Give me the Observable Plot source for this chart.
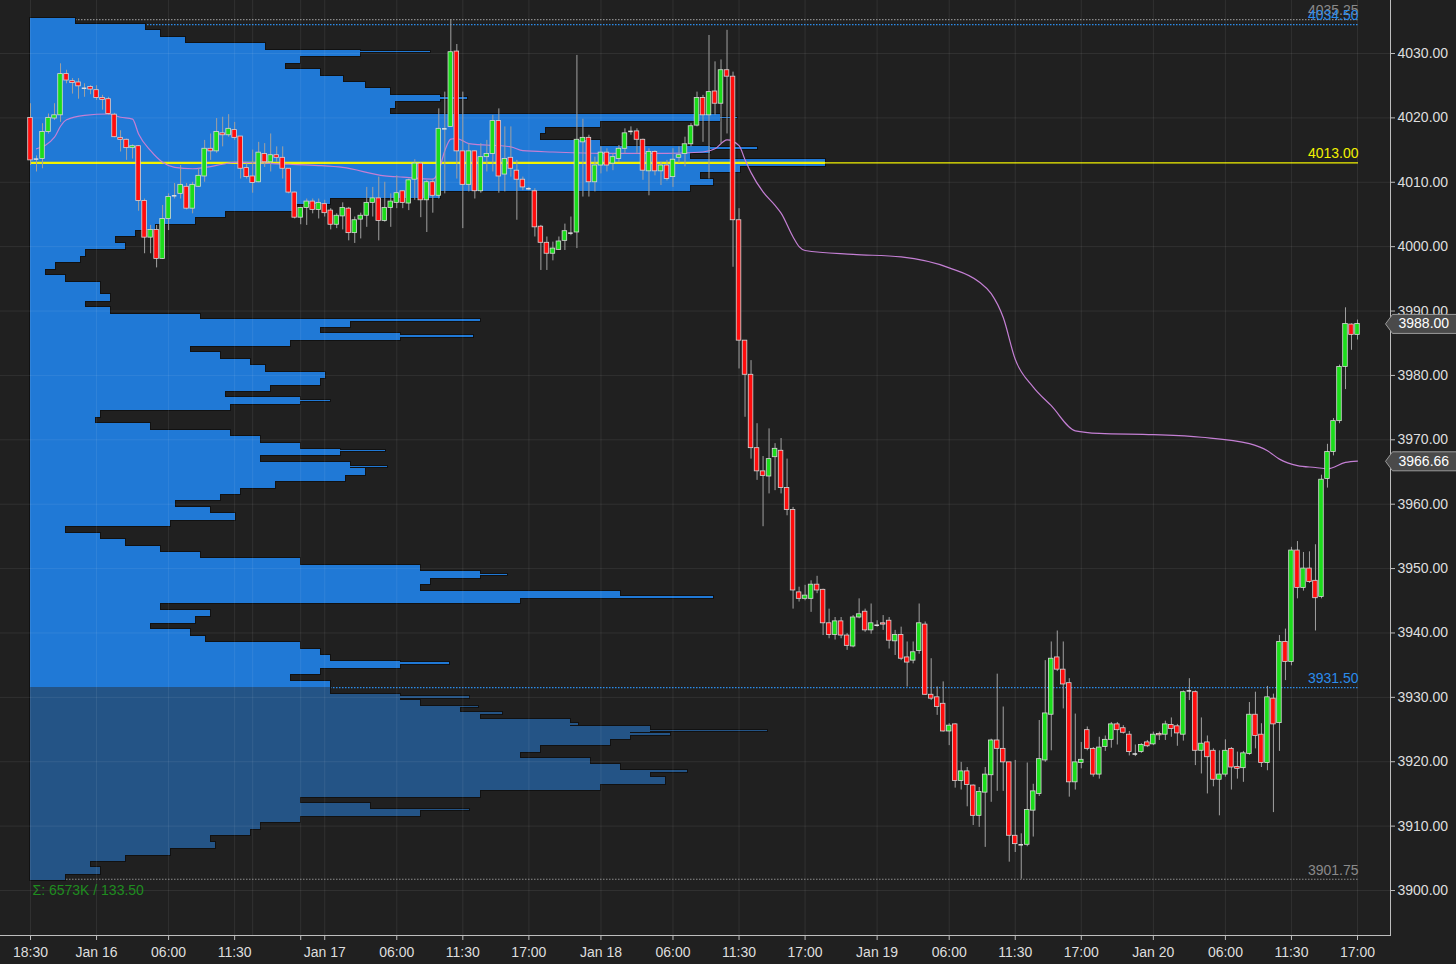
<!DOCTYPE html>
<html><head><meta charset="utf-8">
<script src="https://cdn.jsdelivr.net/npm/d3@7"></script>
<script src="https://cdn.jsdelivr.net/npm/@observablehq/plot@0.6"></script>
<style>
html,body{margin:0;padding:0;background:#202020;}
#wrap{position:relative;width:1456px;height:964px;overflow:hidden;background:#202020;}
#wrap svg{position:absolute;left:0;top:0;}
</style></head><body><div id="wrap"></div>
<script>
// ---------- DATA ----------
const opens = [4020.0,4013.6,4013.6,4017.8,4019.9,4020.4,4026.8,4025.7,4025.5,4024.6,
4024.8,4024.3,4023.1,4022.9,4020.5,4016.9,4016.6,4015.3,4015.6,4007.1,
4001.4,4002.6,3998.1,4004.3,4007.9,4008.2,4009.3,4005.9,4009.3,4010.9,
4015.2,4014.8,4017.6,4017.3,4018.1,4017.1,4012.2,4010.9,4010.0,4014.4,
4013.1,4014.2,4013.8,4012.1,4008.4,4004.5,4006.0,4007.0,4005.7,4006.6,
4005.6,4003.4,4004.7,4005.9,4002.1,4004.2,4004.8,4006.8,4007.5,4004.0,
4006.0,4006.8,4008.6,4006.7,4010.4,4012.9,4007.2,4010.0,4007.9,4018.3,
4018.6,4030.3,4014.8,4009.6,4014.8,4008.6,4013.9,4014.4,4019.5,4011.2,
4013.8,4011.8,4010.4,4009.0,4008.6,4003.1,4000.6,3998.9,3999.5,4000.9,
4002.1,4002.2,4016.2,4016.9,4010.0,4012.6,4014.6,4012.9,4013.6,4015.2,
4017.9,4017.9,4016.6,4011.7,4014.7,4011.7,4012.6,4010.8,4013.8,4014.4,
4015.9,4018.8,4023.1,4020.4,4024.1,4022.2,4027.4,4026.4,4004.1,3985.4,
3980.1,3968.7,3965.1,3964.3,3967.3,3968.3,3962.5,3959.1,3946.3,3945.3,
3945.3,3947.5,3946.7,3941.5,3939.7,3941.8,3939.6,3937.9,3942.4,3943.3,
3940.4,3941.2,3941.5,3941.9,3938.7,3939.7,3936.2,3935.7,3937.2,3941.3,
3930.4,3930.0,3929.0,3924.7,3925.8,3917.0,3918.5,3916.3,3911.6,3915.2,
3917.9,3923.3,3922.0,3919.9,3908.5,3907.1,3907.1,3912.4,3915.0,3920.2,
3927.3,3936.2,3934.3,3932.2,3916.8,3919.8,3924.9,3922.0,3918.0,3922.3,
3923.4,3925.8,3925.2,3924.2,3921.2,3921.5,3923.0,3922.7,3924.3,3924.2,
3925.7,3925.5,3924.2,3931.0,3930.8,3921.7,3923.0,3921.7,3917.2,3918.0,
3922.0,3919.2,3919.0,3921.2,3927.3,3924.2,3919.8,3929.8,3926.0,3938.6,
3935.5,3952.8,3947.0,3950.0,3948.1,3945.6,3963.9,3968.1,3972.9,3981.3,
3987.9,3986.3];
const highs = [4022.2,4014.1,4019.1,4020.6,4022.2,4028.4,4027.4,4026.1,4026.1,4025.3,
4025.0,4025.0,4023.5,4023.2,4020.7,4018.0,4016.7,4015.8,4015.7,4007.4,
4003.3,4003.3,4006.4,4008.2,4009.8,4012.6,4009.8,4010.0,4012.1,4016.5,
4017.5,4019.9,4020.1,4020.5,4019.3,4017.1,4012.9,4015.0,4016.2,4016.0,
4017.5,4015.5,4015.5,4012.1,4008.5,4006.1,4007.4,4007.4,4007.4,4007.2,
4005.9,4005.1,4006.8,4006.1,4004.6,4005.2,4009.2,4009.2,4010.8,4010.0,
4008.2,4011.0,4008.7,4010.5,4013.5,4013.1,4010.3,4010.5,4021.4,4024.0,
4035.25,4031.4,4024.0,4016.0,4014.9,4016.0,4016.5,4020.4,4021.4,4018.6,
4018.6,4013.4,4010.8,4009.2,4009.0,4003.3,4001.5,4000.7,4001.5,4003.5,
4004.6,4029.7,4019.8,4017.3,4013.9,4015.5,4015.2,4014.4,4015.7,4018.3,
4018.6,4018.3,4016.7,4015.2,4014.9,4013.1,4013.4,4015.2,4015.5,4017.0,
4019.1,4024.0,4023.5,4032.8,4028.7,4029.0,4033.6,4027.1,4005.9,3985.4,
3982.3,3972.5,3967.4,3971.7,3969.4,3970.2,3967.0,3959.5,3947.1,3947.4,
3948.1,3948.8,3946.8,3943.7,3942.4,3942.4,3939.9,3942.7,3945.3,3943.7,
3944.5,3941.9,3942.7,3942.4,3940.4,3940.9,3938.6,3938.6,3944.5,3941.7,
3936.0,3931.6,3932.4,3925.9,3925.9,3919.9,3919.1,3916.4,3916.0,3919.1,
3923.5,3933.6,3928.5,3919.9,3920.2,3908.8,3919.8,3916.5,3926.4,3935.7,
3938.6,3940.3,3938.6,3932.9,3927.4,3923.0,3925.4,3922.2,3923.8,3924.0,
3926.1,3926.1,3925.6,3924.7,3922.6,3922.8,3923.3,3924.6,3924.6,3926.3,
3926.8,3925.8,3931.0,3932.9,3931.0,3926.8,3924.0,3922.0,3921.7,3923.4,
3922.2,3921.5,3921.6,3929.2,3930.8,3925.9,3931.7,3930.5,3939.6,3940.6,
3953.3,3954.2,3952.5,3952.6,3953.7,3964.5,3969.3,3973.3,3981.6,3990.5,
3988.0,3988.6];
const lows = [4012.6,4011.6,4012.1,4017.5,4019.6,4019.3,4025.3,4023.7,4022.9,4023.2,
4023.6,4022.7,4021.2,4020.4,4016.9,4014.7,4013.4,4013.6,4005.5,3998.9,
3998.9,3996.7,3998.0,4002.5,4007.4,4007.4,4005.7,4005.1,4009.2,4010.0,
4013.4,4014.5,4015.5,4017.0,4016.5,4010.5,4010.5,4008.3,4009.9,4012.3,
4011.6,4013.1,4010.5,4008.2,4004.3,4003.4,4003.3,4005.1,4004.3,4004.6,
4002.6,4002.8,4002.6,4000.9,4000.5,4001.2,4003.0,4004.6,4000.9,4003.8,
4003.0,4005.9,4005.9,4005.6,4007.2,4004.5,4002.2,4005.2,4007.4,4008.2,
4018.6,4010.5,4002.8,4008.5,4007.4,4008.3,4011.6,4011.6,4008.3,4008.5,
4010.8,4004.1,4008.7,4008.7,4001.5,3996.3,3996.3,3997.8,3999.4,3999.4,
4001.7,3999.7,4007.7,4007.7,4008.5,4011.3,4011.6,4011.8,4013.1,4014.4,
4017.3,4014.4,4010.3,4007.9,4011.0,4009.5,4010.2,4009.2,4012.9,4012.4,
4015.5,4018.6,4016.2,4010.5,4020.4,4016.0,4017.5,3996.8,3981.0,3973.5,
3967.0,3963.7,3956.5,3961.6,3962.1,3961.6,3958.2,3943.7,3944.8,3945.0,
3943.2,3946.1,3939.6,3939.1,3938.9,3939.1,3937.3,3937.7,3942.2,3940.1,
3939.8,3940.9,3940.4,3937.5,3936.5,3935.7,3931.6,3935.2,3936.7,3930.3,
3929.5,3927.2,3924.6,3922.5,3915.9,3915.6,3913.0,3910.1,3909.8,3906.7,
3913.7,3915.4,3915.4,3904.4,3905.9,3901.75,3906.8,3908.3,3914.6,3919.9,
3921.7,3934.0,3928.2,3914.5,3915.6,3918.9,3921.7,3917.6,3917.3,3921.6,
3922.1,3922.6,3924.3,3920.9,3920.8,3921.3,3922.2,3922.5,3923.3,3923.3,
3923.8,3922.4,3923.2,3929.5,3919.4,3918.1,3915.0,3916.1,3911.6,3917.6,
3915.6,3917.3,3916.8,3921.0,3922.0,3919.1,3918.6,3912.1,3921.6,3932.6,
3934.9,3945.3,3946.5,3947.7,3940.3,3945.3,3962.5,3967.5,3972.5,3977.8,
3983.9,3985.5];
const closes = [4013.4,4013.6,4017.8,4020.0,4020.4,4026.8,4025.8,4025.4,4024.9,4024.6,
4024.4,4023.1,4022.8,4020.6,4017.0,4016.6,4015.3,4015.6,4007.1,4001.4,
4002.6,3998.1,4004.3,4007.7,4007.9,4009.6,4005.9,4009.6,4011.0,4015.2,
4014.8,4017.8,4017.3,4018.3,4016.9,4012.1,4010.8,4009.9,4014.6,4013.1,
4014.2,4013.8,4012.1,4008.4,4004.5,4006.0,4007.0,4005.7,4006.8,4005.2,
4003.4,4004.8,4006.0,4002.1,4004.1,4004.8,4006.8,4007.5,4004.0,4006.0,
4007.0,4008.3,4006.8,4010.3,4012.9,4007.2,4010.0,4007.9,4018.3,4018.3,
4030.2,4014.8,4009.6,4014.8,4008.6,4013.9,4014.4,4019.5,4010.9,4013.6,
4012.1,4010.4,4009.2,4009.0,4003.0,4000.6,3998.9,3999.7,4000.8,4002.4,
4002.1,4016.6,4016.9,4010.0,4012.6,4014.6,4012.6,4013.9,4015.2,4017.6,
4017.9,4016.6,4011.8,4014.7,4011.7,4012.6,4010.5,4013.5,4014.2,4015.9,
4018.7,4023.1,4020.4,4024.0,4022.2,4027.4,4026.4,4004.1,3985.4,3980.1,
3968.7,3965.1,3964.4,3967.0,3968.6,3962.5,3959.1,3946.6,3945.3,3945.8,
3947.5,3946.6,3941.5,3939.7,3941.8,3939.6,3938.0,3942.4,3942.9,3940.4,
3941.5,3941.2,3941.3,3938.8,3939.7,3936.0,3935.4,3937.0,3941.5,3930.4,
3929.8,3928.5,3924.7,3925.6,3917.0,3918.5,3916.4,3911.6,3915.3,3918.0,
3923.3,3922.0,3919.9,3908.5,3907.2,3907.1,3912.5,3915.4,3920.4,3927.5,
3936.0,3934.3,3932.0,3916.8,3919.9,3920.3,3922.0,3918.0,3922.2,3923.4,
3925.8,3924.9,3924.5,3921.5,3921.2,3922.6,3922.4,3924.2,3924.1,3925.8,
3925.1,3924.4,3930.8,3931.0,3921.7,3922.8,3920.7,3917.2,3918.0,3921.7,
3919.1,3918.9,3921.3,3927.3,3924.0,3919.8,3930.0,3925.8,3938.6,3935.5,
3952.8,3947.0,3950.0,3947.9,3945.4,3963.8,3968.1,3972.9,3981.3,3988.0,
3986.3,3988.0];

// VWAP (bar index, value)
const vwapIdx = [1,4,5,6,9,13,15,17,18,20,22,24,27,29,32,34,43,48,52,59,62,67,68,69,70,71,73,80,82,87,95,106,112,114,116,118,119,120,122,124,125,127,128,129,137,145,153,158,160,162,164,167,170,174,178,187,195,203,206,208,211,214,216,219,221];
const vwapVal = [4015.2,4017.0,4018.7,4019.7,4020.4,4020.6,4020.1,4019.8,4017.5,4014.9,4013.1,4012.3,4012.1,4012.3,4012.8,4013.1,4012.8,4012.6,4012.3,4011.0,4010.8,4010.5,4011.8,4014.9,4016.7,4016.8,4016.0,4015.5,4014.9,4014.7,4014.5,4014.5,4014.7,4015.2,4016.6,4015.7,4013.5,4011.5,4008.5,4006.4,4005.2,4001.5,4000.0,3999.4,3998.8,3998.4,3996.7,3994.5,3992.7,3989.0,3982.5,3978.2,3975.3,3971.4,3971.0,3970.8,3970.4,3969.4,3968.3,3967.0,3966.0,3965.7,3965.5,3966.5,3966.7];

// Volume profile, 1-point levels (price, relative volume)
const profilePrices = d3.range(4035, 3901, -1);
const profileVol = [45,115,130,155,235,330,270,255,290,313,335,360,410,365,360,690,570,515,510,570,
680,660,795,710,670,683,660,410,300,265,195,165,125,105,85,95,55,50,25,15,
35,70,70,80,55,80,170,320,290,370,260,160,190,220,235,295,290,240,195,270,
200,70,65,120,200,230,270,310,230,320,335,315,245,210,190,145,180,205,140,35,
70,95,130,170,270,390,450,400,390,590,490,130,180,165,120,160,175,270,290,300,
370,290,260,300,300,370,390,430,450,540,620,600,580,510,490,560,590,620,635,570,
450,270,340,390,270,230,220,180,185,140,95,60,70,35];
// single-tick spikes of the profile (price, relative volume)
const spikePrices = [4030.25,4023.0,4020.0,4015.25,4012.75,3988.5,3986.0,3976.0,3968.25,3965.75,3949.0,3945.5,3935.25,3930.0,3928.5,3927.5,3926.5,3925.75,3924.75,3924.25,3918.5,3912.5];
const spikeVols = [400,437,707,727,748,450,443,300,355,357,477,683,419,439,448,472,528,548,737,640,657,439];
const valueAreaHigh = 3931.5;
const pocPrice = 4013.00;

// Levels and ticks
const priceTicks = d3.range(3900, 4031, 10);
const timeTickIdx = [0,11,23,34,45,49,61,72,83,95,107,118,129,141,153,164,175,187,199,210,221];
const timeTickLabels = ["18:30","Jan 16","06:00","11:30","","Jan 17","06:00","11:30","17:00","Jan 18","06:00","11:30","17:00","Jan 19","06:00","11:30","17:00","Jan 20","06:00","11:30","17:00"];
const extraGridIdx = [37];
const levelValues = [4035.25, 4034.50, 4013.00, 3931.50, 3901.75];
const levelColors = ["#8a8a8a", "#2b8ceb", "#f2f200", "#2b8ceb", "#8a8a8a"];
const levelDotted = [true, true, false, true, true];
const tagValues = [3988.00, 3966.66];
const sumLabel = "Σ: 6573K / 133.50";

// ---------- BUILD ----------
const W = 1456, H = 964;
const font = "'Liberation Sans', Arial, Helvetica, sans-serif";
const yScale = {domain: [3900, 4030], range: [890, 53]};
const bars = opens.map((o, i) => ({i, o, h: highs[i], l: lows[i], c: closes[i]}));
const lastIdx = bars.length - 1;
const up = bars.filter(d => d.c > d.o), down = bars.filter(d => d.c < d.o), flat = bars.filter(d => d.c === d.o);
const vwap = vwapIdx.map((i, k) => ({i, v: vwapVal[k]}));
const rows = [
  ...profilePrices.map((p, k) => ({p, v: profileVol[k], half: 0.5})),
  ...spikePrices.map((p, k) => ({p, v: spikeVols[k], half: 0.125}))
];
const maxVol = d3.max(profileVol);
const levels = levelValues.map((v, k) => ({v, color: levelColors[k], dotted: levelDotted[k]}));
const tickLabel = new Map(timeTickIdx.map((d, k) => [d, timeTickLabels[k]]));
const profColor = d => d.p > valueAreaHigh ? "#2079d6" : "#245486";
const bw = 0.38;
const rowOpts = {x1: 0, x2: "v", y1: d => d.p - d.half, y2: d => d.p + d.half, fill: profColor, shapeRendering: "crispEdges"};

const profilePlot = Plot.plot({
  width: W, height: H,
  marginLeft: 30, marginRight: 98, marginTop: 0, marginBottom: 29,
  x: {domain: [0, maxVol], range: [30, 825], axis: null},
  y: {...yScale, axis: null},
  style: {background: "transparent"},
  marks: [
    Plot.ruleY(levels.filter(d => d.dotted), {y: "v", stroke: "color", strokeWidth: 1.2, strokeDasharray: "1.5,1.5"}),
    Plot.rect(rows, {...rowOpts, stroke: "#111111", strokeWidth: 2}),
    Plot.rect(rows, rowOpts),
    Plot.ruleY([pocPrice], {stroke: "#f2f200", strokeWidth: 1.2}),
    Plot.ruleY(rows.filter(d => d.p === pocPrice), {y: "p", x1: 0, x2: "v", stroke: "#f2f200", strokeWidth: 2.2})
  ]
});

const tagSymbol = {draw(ctx) { ctx.moveTo(0, 0); ctx.lineTo(7, -9.5); ctx.lineTo(74, -9.5); ctx.lineTo(74, 9.5); ctx.lineTo(7, 9.5); ctx.closePath(); }};

const mainPlot = Plot.plot({
  width: W, height: H,
  marginLeft: 0, marginRight: 66, marginTop: 0, marginBottom: 29,
  x: {domain: [0, lastIdx], range: [30, 1357]},
  y: yScale,
  style: {background: "transparent", color: "#dedede", fontFamily: font, fontSize: "14px"},
  marks: [
    Plot.gridX([...timeTickIdx, ...extraGridIdx], {stroke: "#ffffff", strokeOpacity: 0.075}),
    Plot.gridY(priceTicks, {stroke: "#ffffff", strokeOpacity: 0.075}),
    Plot.line(vwap, {x: "i", y: "v", stroke: "#c47fd4", strokeWidth: 1.2, curve: "monotone-x"}),
    Plot.ruleX(bars, {x: "i", y1: "l", y2: "h", stroke: "#a0a0a0", strokeWidth: 1}),
    Plot.rect(up, {x1: d => d.i - bw, x2: d => d.i + bw, y1: "o", y2: "c", fill: "#1bdc1b", stroke: "#d8d8d8", strokeWidth: 0.8}),
    Plot.rect(down, {x1: d => d.i - bw, x2: d => d.i + bw, y1: "o", y2: "c", fill: "#ff0d0d", stroke: "#d8d8d8", strokeWidth: 0.8}),
    Plot.ruleY(flat, {y: "o", x1: d => d.i - bw, x2: d => d.i + bw, stroke: "#e0e0e0", strokeWidth: 1.5}),
    Plot.text(levels, {x: () => lastIdx, y: "v", text: d => d.v.toFixed(2), fill: "color", textAnchor: "end", dx: 1, dy: -9, fontSize: 14}),
    Plot.text([sumLabel], {x: () => 0, y: () => levelValues[4], text: d => d, fill: "#1f8c1f", textAnchor: "start", dx: 2, dy: 11, fontSize: 14}),
    Plot.axisX(timeTickIdx, {anchor: "bottom", tickFormat: d => tickLabel.get(d), tickSize: 5, tickPadding: 7, stroke: "#bdbdbd", label: null, fontSize: 14}),
    Plot.axisY(priceTicks, {anchor: "right", tickFormat: d => d.toFixed(2), tickSize: 4, tickPadding: 3, stroke: "#bdbdbd", label: null, fontSize: 14}),
    Plot.frame({anchor: "right", stroke: "#bdbdbd"}),
    Plot.frame({anchor: "bottom", stroke: "#bdbdbd"}),
    Plot.dot(tagValues, {y: d => d, frameAnchor: "right", dx: -5, symbol: tagSymbol, r: 5, fill: "#4a4a4a", stroke: "#9a9a9a", strokeWidth: 1}),
    Plot.text(tagValues, {y: d => d, frameAnchor: "right", text: d => d.toFixed(2), dx: 8, textAnchor: "start", fill: "#ffffff", fontSize: 14})
  ]
});

const wrap = document.getElementById("wrap");
wrap.appendChild(profilePlot);
wrap.appendChild(mainPlot);
</script></body></html>
